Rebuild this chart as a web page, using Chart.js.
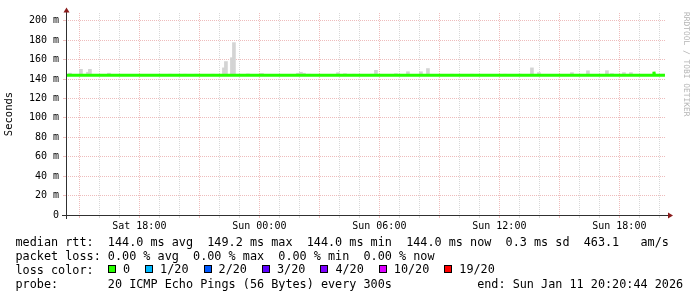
<!DOCTYPE html>
<html>
<head>
<meta charset="utf-8">
<script src="https://cdn.jsdelivr.net/npm/chart.js@4.4.1/dist/chart.umd.min.js"></script>
<style>
body { margin: 0; background: #fff; }
#wrap { position: relative; width: 697px; height: 297px; font-family: 'DejaVu Sans Mono', monospace; color: #000; }
#c { position: absolute; left: 0; top: 0; }
.leg { position: absolute; left: 15.5px; font-size: 11.8px; line-height: 14px; white-space: pre; }
#lossrow { position: absolute; left: 108px; top: 262.3px; height: 14px; display: flex; align-items: center; font-size: 11.8px; white-space: pre; }
#lossrow .box { width: 6px; height: 6px; border: 1px solid #000; margin-right: 7px; }
#lossrow .lbl { margin-right: 15px; }
#wm { position: absolute; left: 681px; top: 12px; font-size: 7.9px; line-height: 10px; color: #b4b4b4; writing-mode: vertical-rl; }
</style>
</head>
<body>
<div id="wrap">
  <canvas id="c" width="697" height="297"></canvas>
  <div class="leg" style="top:234.5px">median rtt:  144.0 ms avg  149.2 ms max  144.0 ms min  144.0 ms now  0.3 ms sd  463.1   am/s</div>
  <div class="leg" style="top:248.5px">packet loss: 0.00 % avg  0.00 % max  0.00 % min  0.00 % now</div>
  <div class="leg" style="top:262.5px">loss color:</div>
  <div id="lossrow"></div>
  <div class="leg" style="top:276.5px">probe:       20 ICMP Echo Pings (56 Bytes) every 300s            end: Sun Jan 11 20:20:44 2026</div>
  <div id="wm">RRDTOOL / TOBI OETIKER</div>
</div>
<script>
// time in hours since Sat 00:00 (graph runs Sat 14:20 -> Sun 20:20)
var startHour = 14.333
var endHour = 44.333

// median rtt (ms)
var medianTimes = [14.35, 43.70, 43.73, 43.76, 44.28]
var medianValues = [144, 144, 147.5, 144, 144]

// smoke (spread of the 20 pings), top of each spike in ms
var smokeLow = 143.5
var smokeTimes = [14.53, 15.08, 15.43, 15.53, 16.48, 19.53, 20.28, 20.83, 21.68, 22.23,
  22.33, 22.63, 22.73, 23.43, 24.13, 25.93, 26.08, 26.23, 26.48, 27.93,
  28.28, 28.73, 29.63, 29.83, 30.83, 31.43, 32.08, 32.43, 33.63, 34.63,
  36.28, 37.03, 37.63, 37.98, 39.63, 40.43, 41.38, 41.63, 42.23, 42.58, 44.18]
var smokeHigh = [146, 150, 147, 150, 146, 145, 145, 145, 145, 151.5,
  158, 162, 177.5, 145.3, 145.7, 146, 147, 146, 145, 146.5,
  145.5, 145, 145, 149, 145.5, 147.5, 147.5, 150.8, 145, 145,
  145, 145, 151.5, 146.6, 146.6, 148.5, 148.6, 145.5, 146.6, 146.6, 145]

// axis labels
var xLabelHours = [18, 24, 30, 36, 42]
var xLabels = ['Sat 18:00', 'Sun 00:00', 'Sun 06:00', 'Sun 12:00', 'Sun 18:00']
var yLabelValues = [0, 20, 40, 60, 80, 100, 120, 140, 160, 180, 200]
var yLabels = ['0', '20 m', '40 m', '60 m', '80 m', '100 m', '120 m', '140 m', '160 m', '180 m', '200 m']

// loss colour legend
var lossLabels = ['0', '1/20', '2/20', '3/20', '4/20', '10/20', '19/20']
var lossColors = ['#26ff00', '#00b8ff', '#0059ff', '#5e00ff', '#7e00ff', '#dd00ff', '#ff0000']

var row = document.getElementById('lossrow')
for (let i in lossLabels) {
  var b = document.createElement('span')
  b.className = 'box'
  b.style.background = lossColors[i]
  row.appendChild(b)
  var l = document.createElement('span')
  l.className = 'lbl'
  l.textContent = lossLabels[i]
  row.appendChild(l)
}

var xGrid = []
for (let h = 15; h <= 44; h++) xGrid.push(h)
var yGrid = []
for (let v = 0; v <= 200; v += 10) yGrid.push(v)

var gridColor = 'rgb(216,216,216)'
var mgridColor = 'rgb(238,188,188)'

var axisArrows = {
  id: 'axisArrows',
  afterDatasetsDraw(chart) {
    var ctx = chart.ctx
    var a = chart.chartArea
    ctx.save()
    ctx.strokeStyle = '#303030'
    ctx.lineWidth = 1
    ctx.beginPath()
    ctx.moveTo(a.left + 0.5, a.bottom + 4)
    ctx.lineTo(a.left + 0.5, a.top - 1)
    ctx.moveTo(a.left - 4, a.bottom + 0.5)
    ctx.lineTo(a.right + 2, a.bottom + 0.5)
    ctx.stroke()
    ctx.fillStyle = '#8a1c1c'
    ctx.beginPath()
    ctx.moveTo(a.left + 0.5, a.top - 5.5)
    ctx.lineTo(a.left - 2.5, a.top - 0.5)
    ctx.lineTo(a.left + 3.5, a.top - 0.5)
    ctx.closePath()
    ctx.fill()
    ctx.beginPath()
    ctx.moveTo(a.right + 7, a.bottom + 0.5)
    ctx.lineTo(a.right + 2, a.bottom - 2.5)
    ctx.lineTo(a.right + 2, a.bottom + 3.5)
    ctx.closePath()
    ctx.fill()
    ctx.restore()
  }
}

Chart.defaults.font.family = "'DejaVu Sans Mono', monospace"
Chart.defaults.color = '#000'

var ctx = document.getElementById('c').getContext('2d')
var myChart = new Chart(ctx, {
  type: 'bar',
  data: {
    datasets: [{
      type: 'line',
      label: 'median rtt',
      data: medianTimes.map((t, i) => ({ x: t, y: medianValues[i] })),
      borderColor: '#26ff00',
      borderWidth: 3,
      pointRadius: 0,
      tension: 0,
      order: 0
    }, {
      type: 'bar',
      label: 'smoke',
      data: smokeTimes.map((t, i) => ({ x: t, y: [smokeLow, smokeHigh[i]] })),
      backgroundColor: '#d4d4d4',
      barThickness: 3,
      order: 1
    }]
  },
  options: {
    responsive: false,
    animation: false,
    devicePixelRatio: 1,
    layout: { padding: { left: 0, top: 13, right: 31, bottom: 0 } },
    plugins: { legend: { display: false }, tooltip: { enabled: false } },
    scales: {
      x: {
        type: 'linear',
        min: startHour,
        max: endHour,
        offset: false,
        afterBuildTicks: s => { s.ticks = xGrid.map(v => ({ value: v })) },
        afterFit: s => { s.height = 82 },
        ticks: {
          autoSkip: false,
          maxRotation: 0,
          padding: 2,
          font: { size: 10 },
          callback: v => { var i = xLabelHours.indexOf(v); return i < 0 ? '' : xLabels[i] }
        },
        grid: {
          offset: false,
          color: c => (c.tick && c.tick.value % 3 === 0) ? mgridColor : gridColor,
          tickColor: c => (c.tick && c.tick.value % 3 === 0) ? mgridColor : gridColor,
          tickLength: 3
        },
        border: { display: false, dash: [1, 1] }
      },
      y: {
        min: 0,
        max: 208,
        afterBuildTicks: s => { s.ticks = yGrid.map(v => ({ value: v })) },
        afterFit: s => { s.width = 66 },
        ticks: {
          padding: 4,
          font: { size: 10 },
          callback: v => { var i = yLabelValues.indexOf(v); return i < 0 ? '' : yLabels[i] }
        },
        grid: {
          color: c => (c.tick && c.tick.value % 20 === 0) ? mgridColor : gridColor,
          tickColor: c => (c.tick && c.tick.value % 20 === 0) ? mgridColor : gridColor,
          tickLength: 3
        },
        border: { display: false, dash: [1, 1] },
        title: {
          display: true,
          text: 'Seconds',
          font: { family: "'DejaVu Sans Mono', monospace", size: 10.5 },
          padding: { top: 3, bottom: 0 }
        }
      }
    }
  },
  plugins: [axisArrows]
})
</script>
</body>
</html>
